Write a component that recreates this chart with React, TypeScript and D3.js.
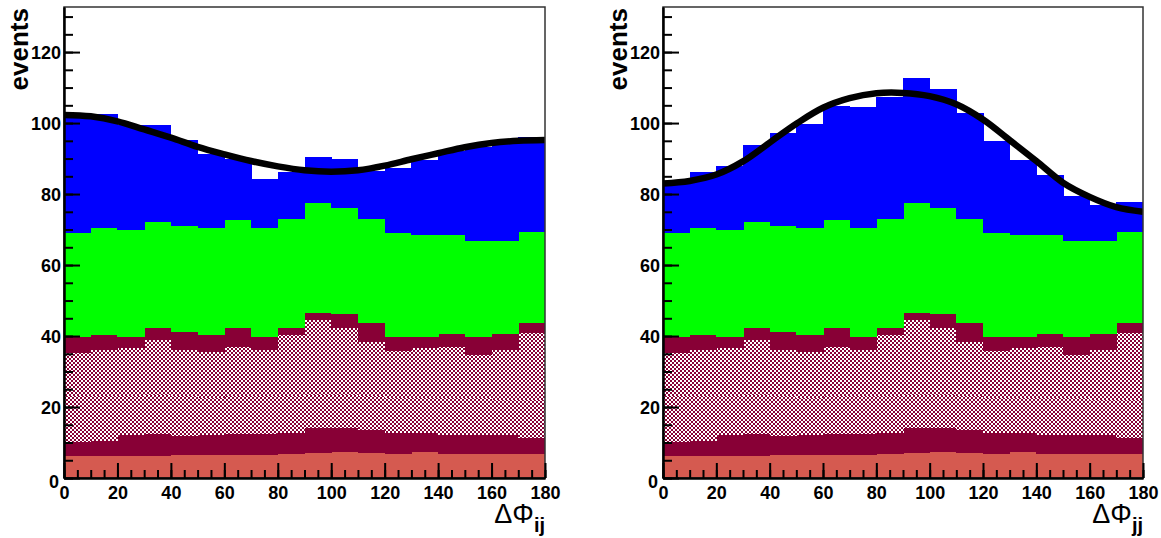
import React, { useEffect, useRef } from 'react';
import * as d3 from 'd3';

// bin low edges (degrees), 10 degree bins
const bins = [0, 10, 20, 30, 40, 50, 60, 70, 80, 90, 100, 110, 120, 130, 140, 150, 160, 170];

// background components, shared by both panels (events per bin)
const salmon = [6.3, 6.3, 6.3, 6.3, 6.5, 6.5, 6.5, 6.5, 6.8, 7.0, 7.3, 7.0, 6.9, 7.2, 6.8, 6.8, 6.8, 6.8];
const maroonLow = [3.9, 4.0, 5.7, 6.2, 5.4, 5.5, 5.8, 5.9, 5.8, 7.2, 6.9, 6.5, 5.7, 5.4, 5.3, 5.3, 5.3, 4.4];
const hatchA = [12.8, 12.7, 11.0, 11.0, 11.1, 10.5, 10.7, 10.6, 10.4, 9.3, 9.3, 9.5, 9.9, 9.9, 10.4, 10.4, 9.9, 10.8];
const hatchB = [12.1, 13.0, 13.5, 15.4, 13.2, 13.1, 13.8, 13.0, 17.3, 21.0, 18.9, 15.4, 13.3, 14.0, 14.5, 12.1, 14.0, 18.9];
const maroonHigh = [4.7, 4.3, 3.3, 3.4, 5.0, 4.7, 5.5, 3.8, 2.0, 2.1, 3.7, 5.4, 4.0, 3.3, 3.7, 5.2, 4.7, 2.9];
const green = [29.1, 30.0, 30.1, 29.7, 29.8, 30.2, 30.3, 30.6, 30.8, 30.8, 30.1, 29.3, 29.1, 28.7, 27.8, 27.1, 26.2, 25.6];

// signal, differs per panel
const blueLeft = [33.5, 32.2, 29.5, 27.4, 24.2, 20.8, 17.4, 13.8, 13.2, 13.1, 13.7, 13.4, 18.3, 21.0, 23.7, 26.4, 27.4, 26.6];
const blueRight = [14.6, 16.0, 18.1, 21.8, 26.1, 29.1, 32.2, 34.0, 34.3, 35.4, 33.4, 29.6, 26.0, 21.1, 16.9, 12.6, 10.0, 8.4];

// fitted curves
const fitX = [0, 10, 20, 30, 40, 50, 60, 70, 80, 90, 100, 110, 120, 130, 140, 150, 160, 170, 180];
const fitLeft = [102.3, 101.9, 100.5, 98.2, 95.9, 93.3, 91.2, 89.3, 87.8, 86.7, 86.3, 86.7, 88.0, 89.8, 91.5, 93.2, 94.4, 95.0, 95.2];
const fitRight = [83.0, 83.7, 85.5, 89.2, 94.5, 99.8, 104.3, 107.0, 108.4, 108.5, 107.6, 105.3, 101.0, 95.2, 89.3, 83.2, 79.2, 76.3, 75.0];

const yTickLabels = [0, 20, 40, 60, 80, 100, 120];
const xTickLabels = [0, 20, 40, 60, 80, 100, 120, 140, 160, 180];

const keys = ['salmon', 'maroonLow', 'hatchA', 'hatchB', 'maroonHigh', 'green', 'blue'];
const fills: Record<string, string> = {
  salmon: '#d55a50',
  maroonLow: '#880036',
  hatchA: 'url(#checkA)',
  hatchB: 'url(#checkB)',
  maroonHigh: '#880036',
  green: '#00ff00',
  blue: '#0000ff',
};

const W = 1161, H = 538;
const top = 7, bottom = 478;
const font = '"Liberation Sans", Arial, sans-serif';

function drawPanel(svg: any, left: number, width: number, blue: number[], fit: number[], sub: string, id: string) {
  const x = d3.scaleLinear().domain([0, 180]).range([0, width]);
  const y = d3.scaleLinear().domain([0, 132.7]).range([bottom - top, 0]);

  const g = svg.append('g').attr('transform', `translate(${left},${top})`);

  g.append('clipPath').attr('id', 'clip' + id)
    .append('rect').attr('width', width).attr('height', bottom - top);

  const rows = bins.map((b, i) => ({
    bin: b, salmon: salmon[i], maroonLow: maroonLow[i], hatchA: hatchA[i], hatchB: hatchB[i],
    maroonHigh: maroonHigh[i], green: green[i], blue: blue[i],
  }));
  const series = d3.stack().keys(keys)(rows as any);

  const plot = g.append('g').attr('clip-path', `url(#clip${id})`);
  series.forEach((s: any) => {
    plot.append('g').selectAll('rect')
      .data(s)
      .enter().append('rect')
      .attr('x', (d: any) => x(d.data.bin))
      .attr('width', (d: any) => x(d.data.bin + 10) - x(d.data.bin) + 0.5)
      .attr('y', (d: any) => y(d[1]))
      .attr('height', (d: any) => y(d[0]) - y(d[1]))
      .attr('shape-rendering', 'crispEdges')
      .style('fill', fills[s.key]);
  });

  const line = d3.line<number>()
    .x((d, i) => x(fitX[i]))
    .y(d => y(d))
    .curve(d3.curveCatmullRom);
  plot.append('path')
    .attr('d', line(fit))
    .attr('fill', 'none')
    .attr('stroke', '#000')
    .attr('stroke-width', 6.5);

  // frame
  g.append('rect').attr('width', width).attr('height', bottom - top)
    .attr('fill', 'none').attr('stroke', '#333').attr('stroke-width', 1.5);

  // y axis, ticks pointing inwards
  const yMinor = g.append('g').call(d3.axisLeft(y).ticks(26).tickSize(-9).tickSizeOuter(0).tickFormat(() => ''));
  const yMajor = g.append('g').call(d3.axisLeft(y).tickValues(yTickLabels).tickSize(-16).tickSizeOuter(0).tickPadding(3));
  const xAxisG = g.append('g').attr('transform', `translate(0,${bottom - top})`);
  const xMinor = xAxisG.append('g').call(d3.axisBottom(x).ticks(36).tickSize(-8).tickSizeOuter(0).tickFormat(() => ''));
  const xMajor = xAxisG.append('g').call(d3.axisBottom(x).tickValues(xTickLabels).tickSize(-15).tickSizeOuter(0).tickPadding(8));

  [yMinor, yMajor, xMinor, xMajor].forEach(a => {
    a.selectAll('line').attr('stroke', '#000').attr('stroke-width', 2);
    a.select('.domain').attr('stroke', '#000').attr('stroke-width', 2);
    a.selectAll('text').attr('fill', '#000').style('font-family', font)
      .style('font-size', '18px').style('font-weight', 'bold');
  });
  yMajor.selectAll('text').attr('dy', '0.36em');
  xMajor.selectAll('text').attr('dy', '0.71em');
  // the origin label sits a bit lower, as in the original
  yMajor.selectAll('.tick').filter((d: any) => d === 0).select('text').attr('dy', '0.55em').attr('x', -5);

  // axis titles
  svg.append('text')
    .attr('transform', `translate(${left - 36},${top + 1}) rotate(-90)`)
    .attr('text-anchor', 'end')
    .style('font-family', font).style('font-size', '26px').style('font-weight', 'bold')
    .text('events');

  const xt = svg.append('text')
    .attr('x', left + width).attr('y', 523)
    .attr('text-anchor', 'end')
    .style('font-family', font);
  xt.append('tspan').style('font-size', '27px').text('ΔΦ');
  xt.append('tspan').attr('dy', 9).style('font-size', '20px').style('font-weight', 'bold').text(sub);
}

export default function App() {
  const ref = useRef<SVGSVGElement>(null);

  useEffect(() => {
    const svg = d3.select(ref.current);
    svg.selectAll('*').remove();

    const defs = svg.append('defs');
    [['checkA', 0], ['checkB', 1]].forEach(([pid, off]) => {
      const p = defs.append('pattern').attr('id', pid as string)
        .attr('patternUnits', 'userSpaceOnUse').attr('width', 4).attr('height', 4)
        .attr('x', off as number).attr('y', off as number);
      p.append('rect').attr('width', 4).attr('height', 4).attr('fill', '#880036');
      p.append('rect').attr('x', 0).attr('y', 0).attr('width', 2).attr('height', 2).attr('fill', '#ffffff');
      p.append('rect').attr('x', 2).attr('y', 2).attr('width', 2).attr('height', 2).attr('fill', '#ffffff');
    });

    svg.append('rect').attr('width', W).attr('height', H).attr('fill', '#fff');

    drawPanel(svg, 64, 481, blueLeft, fitLeft, 'ij', 'L');
    drawPanel(svg, 663, 480, blueRight, fitRight, 'jj', 'R');
  }, []);

  return (
    <svg ref={ref} width={W} height={H}
      style={{ position: 'absolute', left: 0, top: 0, display: 'block' }} />
  );
}
